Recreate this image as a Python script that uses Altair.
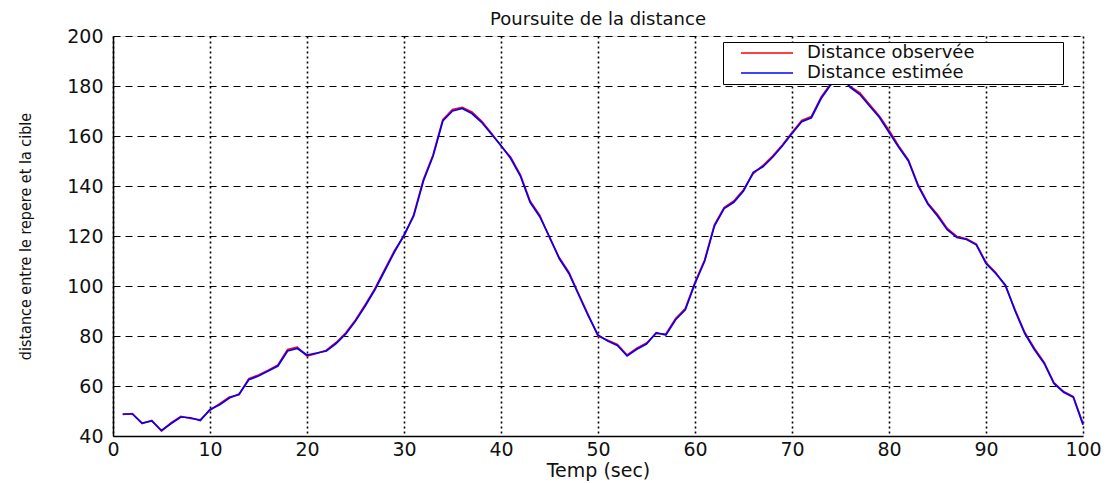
import altair as alt
import pandas as pd

# Time axis (seconds) and the two distance series
temps = list(range(1, 101))

distance_estimee = [
    48.8, 48.8, 45.2, 46.0, 42.2, 45.0, 47.6, 47.3, 46.2, 50.6,
    52.5, 55.2, 56.8, 62.5, 64.0, 66.0, 68.0, 74.0, 75.0, 72.4,
    73.2, 74.0, 77.0, 80.8, 86.0, 92.0, 98.5, 106.0, 113.5, 120.4,
    128.0, 142.0, 152.0, 166.0, 170.0, 171.0, 169.0, 165.5, 160.8, 156.2,
    151.0, 144.0, 133.5, 127.7, 119.7, 111.0, 105.0, 96.5, 88.0, 80.4,
    78.0, 76.2, 72.0, 74.7, 76.8, 81.3, 80.4, 86.5, 90.5, 101.0,
    110.0, 124.0, 131.0, 133.5, 138.0, 145.5, 147.7, 151.5, 156.0, 161.0,
    165.7, 167.3, 175.0, 180.5, 184.0, 179.5, 176.6, 172.0, 167.5, 161.5,
    155.5, 150.0, 140.0, 132.8, 128.0, 122.5, 119.4, 118.6, 116.5, 109.0,
    105.0, 100.4, 90.0, 81.0, 74.5, 69.0, 61.0, 57.5, 55.5, 44.5,
]

distance_observee = [
    48.6, 48.9, 45.0, 46.2, 42.0, 45.3, 47.8, 47.0, 46.5, 50.3,
    52.9, 55.6, 56.5, 62.9, 64.4, 66.3, 68.4, 74.6, 75.5, 72.0,
    73.0, 74.3, 77.4, 81.3, 86.4, 92.5, 98.9, 106.5, 114.0, 120.0,
    128.5, 142.6, 152.5, 166.5, 170.6, 171.4, 169.6, 166.0, 161.2, 156.0,
    151.5, 144.5, 134.0, 128.2, 119.3, 111.4, 105.5, 96.9, 88.5, 80.0,
    78.3, 76.6, 72.4, 75.1, 77.2, 81.0, 80.8, 87.0, 91.0, 101.5,
    110.5, 124.5, 131.4, 134.0, 138.5, 145.0, 148.2, 152.0, 156.4, 161.4,
    166.2, 167.8, 175.5, 181.0, 184.4, 179.8, 177.2, 172.6, 168.0, 162.3,
    156.0, 150.4, 140.5, 133.2, 128.6, 123.0, 119.8, 118.9, 116.8, 109.4,
    105.4, 100.0, 90.5, 81.4, 75.0, 69.4, 61.4, 57.8, 55.8, 45.0,
]

series_names = ["Distance observée", "Distance estimée"]
series_colors = ["#ff0000", "#0000ff"]

x_ticks = list(range(0, 101, 10))
y_ticks = list(range(40, 201, 20))

df = pd.concat([
    pd.DataFrame({"t": temps, "d": distance_observee, "serie": series_names[0]}),
    pd.DataFrame({"t": temps, "d": distance_estimee, "serie": series_names[1]}),
])

FONT = "DejaVu Sans"
# trailing blank run keeps the legend box as wide as the figure's legend
LABEL_TAIL = "\u00a0" * 15 + "\u200b"

x_enc = alt.X(
    "t:Q",
    scale=alt.Scale(domain=[0, 100], nice=False, zero=False),
    axis=alt.Axis(
        values=x_ticks, title="Temp (sec)", format="d",
        grid=True, gridColor="#000000", gridDash=[2, 3], gridWidth=1.6, gridOpacity=1,
        domainColor="#000000", domainWidth=1.5, ticks=False,
        labelFont=FONT, labelFontSize=19, labelColor="#111111", labelPadding=4,
        labelFlush=False,
        titleFont=FONT, titleFontSize=19, titleFontWeight="normal", titleColor="#111111",
        titleBaseline="alphabetic", titleX=485, titleY=40,
    ),
)

y_enc = alt.Y(
    "d:Q",
    scale=alt.Scale(domain=[40, 200], nice=False, zero=False),
    axis=alt.Axis(
        values=y_ticks, title="distance entre le repere et la cible",
        grid=True, gridColor="#000000", gridDash=[7, 5], gridWidth=1.2, gridOpacity=1,
        domainColor="#000000", domainWidth=1.5, ticks=False,
        labelFont=FONT, labelFontSize=19, labelColor="#111111", labelPadding=10,
        labelFlush=False,
        titleFont="DejaVu Sans Condensed", titleFontSize=16, titleFontWeight="normal",
        titleColor="#111111", titleAngle=270, titleAlign="center",
        titleBaseline="bottom", titleX=-80, titleY=200,
    ),
)

color_enc = alt.Color(
    "serie:N",
    scale=alt.Scale(domain=series_names, range=series_colors),
    legend=alt.Legend(
        orient="none", legendX=610, legendY=6, title=None,
        symbolType="M1.4,0H11.8", symbolSize=100, symbolStrokeWidth=1.6,
        labelFont=FONT, labelFontSize=18, labelColor="#111111", labelOffset=64,
        labelExpr="datum.label + '" + LABEL_TAIL + "'",
        labelLimit=600,
        padding=2, rowPadding=2,
        strokeColor="#000000", fillColor="#ffffff",
    ),
)

base = alt.Chart(df).mark_line(strokeWidth=1.7).encode(x=x_enc, y=y_enc, color=color_enc)

red = base.transform_filter(alt.datum.serie == series_names[0])
blue = base.transform_filter(alt.datum.serie == series_names[1])

chart = (
    alt.layer(red, blue)
    .properties(
        width=970,
        height=400,
        title=alt.TitleParams(
            "Poursuite de la distance", font=FONT, fontSize=18, fontWeight="normal",
            color="#111111", anchor="middle", baseline="alphabetic", offset=4, dy=20,
        ),
        autosize=alt.AutoSizeParams(type="none"),
        padding={"left": 113, "top": 36, "right": 24, "bottom": 47},
    )
    .configure_view(stroke=None)
    .configure(background="#ffffff")
)

chart.save("out.html", embed_options={"renderer": "svg", "actions": False})
